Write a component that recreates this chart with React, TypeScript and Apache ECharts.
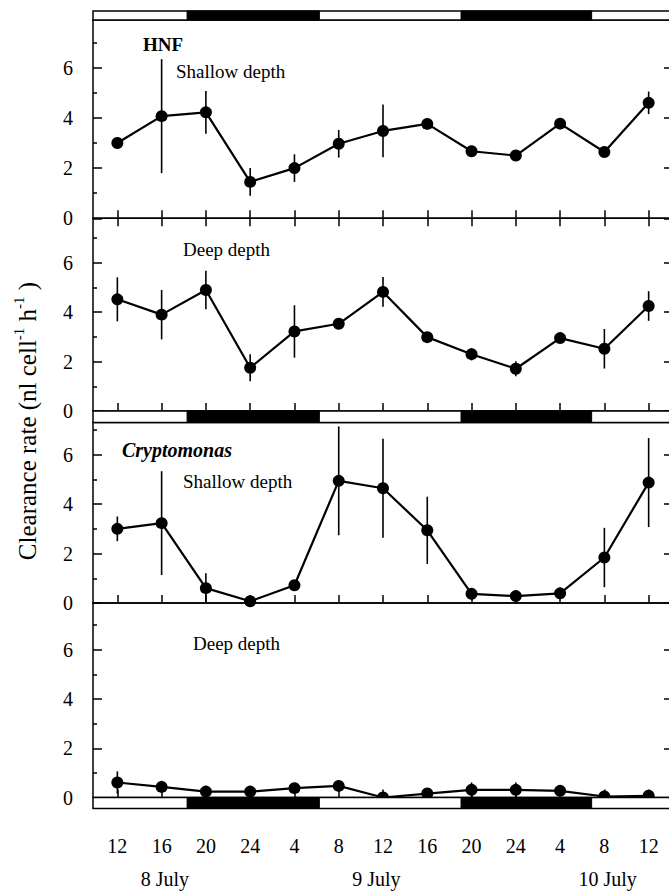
import React, { useEffect, useRef } from 'react';
import * as echarts from 'echarts';

// ---- data ----
const hours = [12, 16, 20, 24, 28, 32, 36, 40, 44, 48, 52, 56, 60];
const hourTickLabels = ['12', '16', '20', '24', '4', '8', '12', '16', '20', '24', '4', '8', '12'];
const dateLabels = ['8 July', '9 July', '10 July'];
const datePositions = [16.3, 35.4, 56.3];
const darkPeriods = [
  [18.3, 30.25],
  [43.05, 54.85],
];
const yMajorTicks = [0, 2, 4, 6];
const yMinorTicks = [1, 3, 5, 7];

const hnfShallow = [3.0, 4.07, 4.22, 1.45, 2.0, 2.97, 3.48, 3.76, 2.67, 2.5, 3.77, 2.64, 4.6];
const hnfShallowErr = [0.1, 2.27, 0.85, 0.55, 0.55, 0.55, 1.05, 0.1, 0.1, 0.1, 0.12, 0.1, 0.45];
const hnfDeep = [4.52, 3.9, 4.9, 1.75, 3.22, 3.53, 4.82, 2.99, 2.3, 1.71, 2.95, 2.52, 4.25];
const hnfDeepErr = [0.89, 1.0, 0.78, 0.55, 1.06, 0.12, 0.6, 0.1, 0.25, 0.3, 0.1, 0.8, 0.6];
const cryptoShallow = [3.0, 3.23, 0.6, 0.07, 0.72, 4.94, 4.64, 2.94, 0.37, 0.28, 0.39, 1.84, 4.87];
const cryptoShallowErr = [0.5, 2.1, 0.6, 0.05, 0.1, 2.2, 2.0, 1.36, 0.2, 0.05, 0.1, 1.2, 1.8];
const cryptoDeep = [0.61, 0.43, 0.24, 0.24, 0.38, 0.47, 0.0, 0.16, 0.31, 0.31, 0.27, 0.04, 0.07];
const cryptoDeepErr = [0.45, 0.25, 0.05, 0.05, 0.15, 0.2, 0.2, 0.05, 0.3, 0.3, 0.15, 0.25, 0.2];

// y-axis title pieces: [text, isSuperscript]
const yTitleParts: [string, boolean][] = [
  ['Clearance rate (nl cell', false],
  ['-1', true],
  [' h', false],
  ['-1', true],
  [' )', false],
];

const serif = 'Liberation Serif';
const X_MIN = 9.8;
const X_MAX = 62.2;
const LEFT = 93;
const WIDTH = 580;

type Panel = { values: number[]; err: number[]; top: number; height: number; max: number; topTicks: boolean };

const panels: Panel[] = [
  { values: hnfShallow, err: hnfShallowErr, top: 20, height: 198.3, max: 7.9, topTicks: true },
  { values: hnfDeep, err: hnfDeepErr, top: 218.3, height: 192.7, max: 7.8, topTicks: false },
  { values: cryptoShallow, err: cryptoShallowErr, top: 422.5, height: 180.5, max: 7.3, topTicks: false },
  { values: cryptoDeep, err: cryptoDeepErr, top: 603, height: 194.5, max: 7.9, topTicks: false },
];
const bars = [
  { top: 11, height: 9 },
  { top: 411, height: 11.5 },
  { top: 797.5, height: 11 },
];

function measure(text: string, size: number) {
  const c = document.createElement('canvas').getContext('2d');
  if (!c) return text.length * size * 0.45;
  c.font = `${size}px "${serif}"`;
  return c.measureText(text).width;
}

function buildOption() {
  const grid: any[] = [];
  const xAxis: any[] = [];
  const yAxis: any[] = [];
  const series: any[] = [];

  const xBase = (gridIndex: number) => ({
    type: 'value',
    gridIndex,
    min: X_MIN,
    max: X_MAX,
    axisLine: { show: false },
    splitLine: { show: false },
    axisLabel: { show: false },
    axisTick: { show: false },
  });

  const addBar = (b: { top: number; height: number }, withLabels: boolean) => {
    const gi = grid.length;
    grid.push({ left: LEFT, width: WIDTH, top: b.top, height: b.height, show: false, outerBoundsMode: 'none' });
    const xi = xAxis.length;
    if (withLabels) {
      xAxis.push({
        ...xBase(gi),
        position: 'bottom',
        axisLabel: {
          show: true,
          customValues: hours,
          margin: 27,
          fontFamily: serif,
          fontSize: 20,
          color: '#000',
          formatter: (v: number) => {
            const i = hours.findIndex((h) => Math.abs(h - v) < 1e-6);
            return i >= 0 ? hourTickLabels[i] : '';
          },
        },
      });
      xAxis.push({
        ...xBase(gi),
        position: 'bottom',
        axisLabel: {
          show: true,
          customValues: datePositions,
          margin: 60,
          fontFamily: serif,
          fontSize: 20,
          color: '#000',
          formatter: (v: number) => {
            const i = datePositions.findIndex((d) => Math.abs(d - v) < 1e-6);
            return i >= 0 ? dateLabels[i] : '';
          },
        },
      });
    } else {
      xAxis.push({ ...xBase(gi), position: 'bottom' });
    }
    const yi = yAxis.length;
    yAxis.push({ type: 'value', gridIndex: gi, min: 0, max: 1, show: false });
    series.push({
      type: 'custom',
      xAxisIndex: xi,
      yAxisIndex: yi,
      z: 10,
      silent: true,
      data: [[X_MIN, X_MAX]],
      encode: { x: [0, 1] },
      renderItem: (_p: any, api: any) => {
        const a = api.coord([api.value(0), 1]);
        const c = api.coord([api.value(1), 0]);
        return {
          type: 'rect',
          shape: { x: a[0], y: a[1], width: c[0] - a[0], height: c[1] - a[1] },
          style: { fill: '#fff', stroke: '#000', lineWidth: 1.5 },
        };
      },
    });
    series.push({
      type: 'custom',
      xAxisIndex: xi,
      yAxisIndex: yi,
      z: 11,
      silent: true,
      data: darkPeriods,
      encode: { x: [0, 1] },
      renderItem: (_p: any, api: any) => {
        const a = api.coord([api.value(0), 1]);
        const c = api.coord([api.value(1), 0]);
        return {
          type: 'rect',
          shape: { x: a[0], y: a[1], width: c[0] - a[0], height: c[1] - a[1] },
          style: { fill: '#000', stroke: '#000', lineWidth: 1 },
        };
      },
    });
  };

  const addPanel = (p: Panel) => {
    const gi = grid.length;
    grid.push({
      left: LEFT,
      width: WIDTH,
      top: p.top,
      height: p.height,
      show: true,
      borderColor: '#000',
      borderWidth: 1.5,
      backgroundColor: 'transparent',
      outerBoundsMode: 'none',
    });
    const tickStyle = { color: '#000', width: 1.5 };
    const xi = xAxis.length;
    xAxis.push({
      ...xBase(gi),
      position: 'bottom',
      axisTick: { show: true, inside: true, length: 8, customValues: hours, lineStyle: tickStyle },
    });
    if (p.topTicks) {
      xAxis.push({
        ...xBase(gi),
        position: 'top',
        axisTick: { show: true, inside: true, length: 8, customValues: hours, lineStyle: tickStyle },
      });
    }
    const yBase = {
      type: 'value',
      gridIndex: gi,
      min: 0,
      max: p.max,
      axisLine: { show: false },
      splitLine: { show: false },
    };
    const yi = yAxis.length;
    yAxis.push({
      ...yBase,
      position: 'left',
      axisTick: { show: true, inside: true, length: 9, customValues: yMajorTicks, lineStyle: tickStyle },
      axisLabel: { show: true, customValues: yMajorTicks, margin: 20, fontFamily: serif, fontSize: 20, color: '#000' },
    });
    yAxis.push({
      ...yBase,
      position: 'left',
      axisTick: { show: true, inside: true, length: 4, customValues: yMinorTicks, lineStyle: tickStyle },
      axisLabel: { show: false },
    });
    yAxis.push({
      ...yBase,
      position: 'right',
      axisTick: { show: true, inside: true, length: 9, customValues: yMajorTicks, lineStyle: tickStyle },
      axisLabel: { show: false },
    });
    yAxis.push({
      ...yBase,
      position: 'right',
      axisTick: { show: true, inside: true, length: 4, customValues: yMinorTicks, lineStyle: tickStyle },
      axisLabel: { show: false },
    });
    series.push({
      type: 'custom',
      xAxisIndex: xi,
      yAxisIndex: yi,
      z: 2,
      silent: true,
      data: hours.map((h, i) => [h, p.values[i] - p.err[i], p.values[i] + p.err[i]]),
      encode: { x: 0, y: [1, 2] },
      renderItem: (_p: any, api: any) => {
        const lo = api.coord([api.value(0), api.value(1)]);
        const hi = api.coord([api.value(0), api.value(2)]);
        return {
          type: 'line',
          shape: { x1: lo[0], y1: lo[1], x2: hi[0], y2: hi[1] },
          style: { stroke: '#000', lineWidth: 1.6 },
        };
      },
    });
    series.push({
      type: 'line',
      xAxisIndex: xi,
      yAxisIndex: yi,
      z: 3,
      silent: true,
      data: hours.map((h, i) => [h, p.values[i]]),
      symbol: 'circle',
      symbolSize: 12,
      showSymbol: true,
      clip: false,
      lineStyle: { color: '#000', width: 2.2 },
      itemStyle: { color: '#000' },
    });
  };

  addBar(bars[0], false);
  addPanel(panels[0]);
  addPanel(panels[1]);
  addBar(bars[1], false);
  addPanel(panels[2]);
  addPanel(panels[3]);
  addBar(bars[2], true);

  const txt = (text: string, x: number, y: number, opts: any = {}) => ({
    type: 'text',
    x,
    y,
    z: 20,
    silent: true,
    style: {
      text,
      fill: '#000',
      fontFamily: serif,
      fontSize: 19,
      align: 'left',
      verticalAlign: 'middle',
      ...opts,
    },
  });

  // y-axis title, laid out piece by piece and rotated
  const mainSize = 25;
  const supSize = 15;
  const widths = yTitleParts.map(([t, sup]) => measure(t, sup ? supSize : mainSize));
  const total = widths.reduce((a, b) => a + b, 0);
  let cursor = -total / 2;
  const titleChildren = yTitleParts.map(([t, sup], i) => {
    const el = {
      type: 'text',
      x: cursor,
      y: sup ? -8 : 0,
      silent: true,
      style: {
        text: t,
        fill: '#000',
        fontFamily: serif,
        fontSize: sup ? supSize : mainSize,
        align: 'left',
        verticalAlign: 'middle',
      },
    };
    cursor += widths[i];
    return el;
  });

  const graphic = [
    txt('HNF', 143, 44, { fontWeight: 'bold' }),
    txt('Shallow depth', 176, 71),
    txt('Deep depth', 183, 249),
    txt('Cryptomonas', 122, 450, { fontWeight: 'bold', fontStyle: 'italic', fontSize: 20 }),
    txt('Shallow depth', 183, 481),
    txt('Deep depth', 193, 643),
    {
      type: 'group',
      x: 27,
      y: 421,
      rotation: Math.PI / 2,
      children: titleChildren,
    },
  ];

  return {
    animation: false,
    backgroundColor: '#fff',
    textStyle: { fontFamily: serif },
    grid,
    xAxis,
    yAxis,
    series,
    graphic,
  };
}

export default function App() {
  const ref = useRef<HTMLDivElement>(null);
  useEffect(() => {
    if (!ref.current) return;
    const chart = echarts.init(ref.current, undefined, { renderer: 'svg' });
    chart.setOption(buildOption() as any);
    return () => chart.dispose();
  }, []);
  return (
    <div
      ref={ref}
      style={{ position: 'absolute', left: 0, top: 0, width: 669, height: 892, background: '#fff' }}
    />
  );
}
